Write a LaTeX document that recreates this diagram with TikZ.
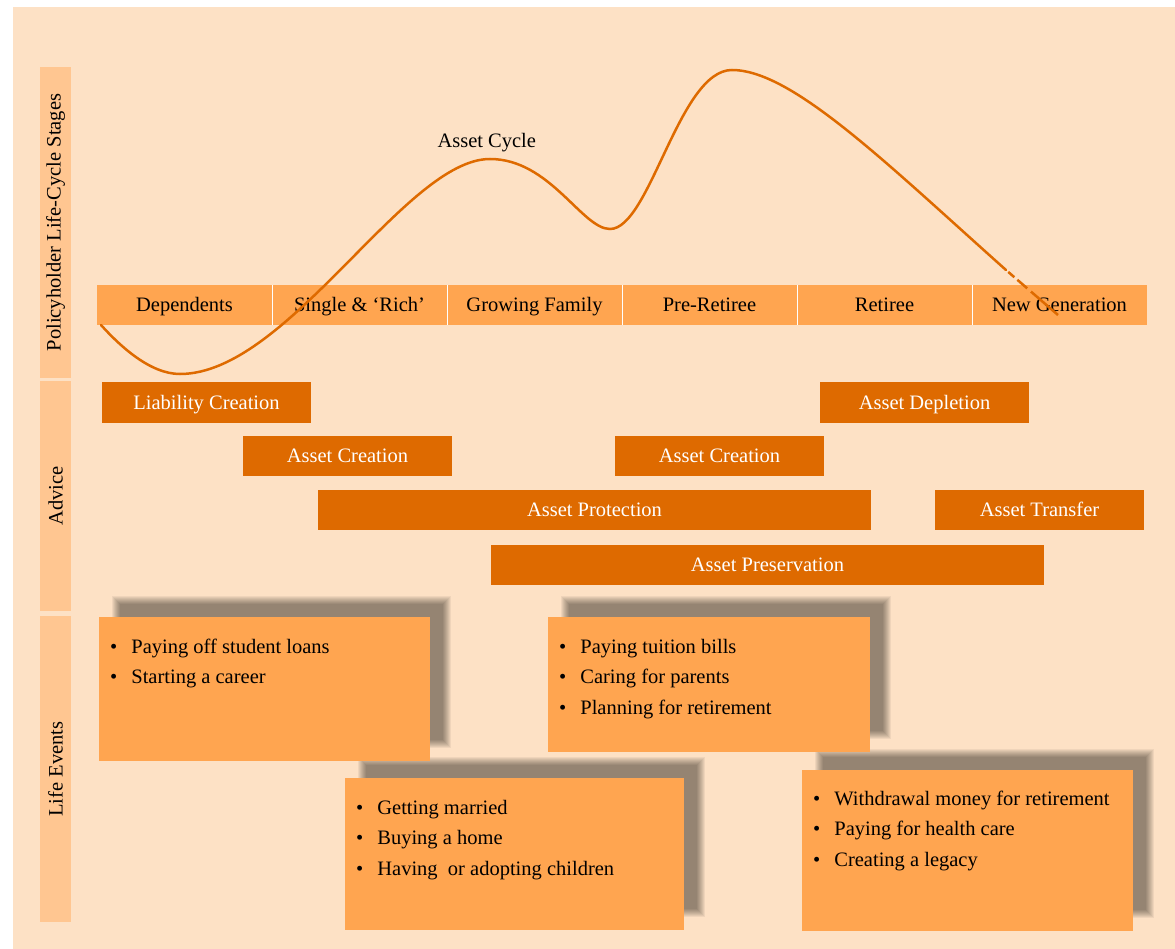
\documentclass[tikz,border=0pt]{standalone}
\usepackage{fontspec}
\setmainfont{Liberation Serif}
\usetikzlibrary{positioning}

\definecolor{sfondo}{HTML}{FDE1C5}
\definecolor{barra}{HTML}{FFC691}
\definecolor{fase}{HTML}{FFA550}
\definecolor{consiglio}{HTML}{DE6A00}

\pgfdeclarelayer{sotto}
\pgfdeclarelayer{ombre}
\pgfsetlayers{sotto,ombre,main}

\newcommand{\voce}{\textbullet}
\newcommand{\elenco}[1]{{\fontsize{20.5}{30.5}\selectfont
  \begin{tabular}{@{}l@{\hspace{14pt}}l@{}}#1\end{tabular}}}
% ombra sfumata in alto a destra
\newcommand{\ombreggia}[1]{%
  \begin{pgfonlayer}{ombre}
    \foreach \r in {0,...,8}
      \fill[black, fill opacity=.054]
        ([xshift=\r pt+13pt, yshift=21pt-\r pt]#1.north west) rectangle
        ([xshift=21pt-\r pt, yshift=\r pt+13pt]#1.south east);
  \end{pgfonlayer}}

\tikzset{
  testo/.style={font=\fontsize{20.5}{24}\selectfont},
  lato/.style={fill=barra, testo, rotate=90, minimum height=31pt, inner sep=0pt},
  fasebox/.style={fill=fase, testo, minimum width=175pt, minimum height=40pt,
    inner sep=0pt, text height=13.5pt, text depth=0pt},
  consbox/.style={fill=consiglio, text=white, testo, minimum width=209pt,
    minimum height=40pt, inner sep=0pt, text height=13pt, text depth=0pt},
  evento/.style={fill=fase, inner sep=0pt, anchor=north west},
  elencobox/.style={anchor=north west, inner sep=0pt, align=left},
  curva/.style={draw=consiglio, line width=2.5pt, line cap=round}
}

\begin{document}
\begin{tikzpicture}[x=1pt,y=-1pt]
  \useasboundingbox (0,0) rectangle (1175,949);
  % Sfondo
  \begin{pgfonlayer}{sotto}
    \fill[sfondo] (13,7) rectangle (1175,949);
  \end{pgfonlayer}

  % Barre laterali
  \node[lato, minimum width=311pt] (lato1) at (55.5,222.5) {Policyholder Life-Cycle Stages};
  \node[lato, minimum width=230pt] (lato2) at (55.5,496) {Advice};
  \node[lato, minimum width=306pt] (lato3) at (55.5,769) {Life Events};

  % Fasi
  \foreach \nome [count=\i] in {Dependents, {Single \& ‘Rich’}, Growing Family,
      Pre-Retiree, Retiree, New Generation}
    \node[fasebox] (fase\i) at ({184.5+175*(\i-1)},305) {\nome};
  \foreach \i in {1,...,5}
    \draw[white, line width=1.2pt] (fase\i.north east) -- (fase\i.south east);

  % Curva degli asset
  \draw[curva] (101,325) .. controls (120,346) and (150,374) .. (180,374)
    .. controls (288,374) and (405,159) .. (490,159)
    .. controls (550,159) and (582,229) .. (610,229)
    .. controls (650,229) and (679,70) .. (732,70)
    .. controls (792,70) and (886,163) .. (1006,270);
  \draw[curva, line cap=butt, dash pattern=on 0pt off 3pt on 8pt off 4pt on 13pt off 5pt on 40pt]
    (1006,270) -- (1058,315);
  \node[testo, anchor=base west] (ciclo) at (434,148) {Asset Cycle};

  % Consigli
  \node[consbox] (liab) at (206.5,402.5) {Liability Creation};
  \node[consbox] (depl) at (924.5,402.5) {Asset Depletion};
  \node[consbox] (crea1) at (347.5,456) {Asset Creation};
  \node[consbox] (crea2) at (719.5,456) {Asset Creation};
  \node[consbox, minimum width=553pt] (prot) at (594.5,510) {Asset Protection};
  \node[consbox] (trasf) at (1039.5,510) {Asset Transfer};
  \node[consbox, minimum width=553pt] (pres) at (767.5,565) {Asset Preservation};

  % Eventi
  \node[evento, minimum width=331pt, minimum height=144pt] (ev1) at (99,617) {};
  \node[evento, minimum width=322pt, minimum height=135pt] (ev2) at (548,617) {};
  \node[evento, minimum width=339pt, minimum height=152pt] (ev3) at (345,778) {};
  \node[evento, minimum width=331pt, minimum height=161pt] (ev4) at (802,770) {};
  \foreach \e in {ev1,ev2,ev3,ev4}{\ombreggia{\e}}

  \node[elencobox] (el1) at ([xshift=11pt,yshift=-14.5pt]ev1.north west) {\elenco{
    \voce & Paying off student loans\\
    \voce & Starting a career}};
  \node[elencobox] (el2) at ([xshift=11pt,yshift=-14.5pt]ev2.north west) {\elenco{
    \voce & Paying tuition bills\\
    \voce & Caring for parents\\
    \voce & Planning for retirement}};
  \node[elencobox] (el3) at ([xshift=11pt,yshift=-14.5pt]ev3.north west) {\elenco{
    \voce & Getting married\\
    \voce & Buying a home\\
    \voce & Having\ \ or adopting children}};
  \node[elencobox] (el4) at ([xshift=11pt,yshift=-13.5pt]ev4.north west) {\elenco{
    \voce & Withdrawal money for retirement\\
    \voce & Paying for health care\\
    \voce & Creating a legacy}};
\end{tikzpicture}
\end{document}
